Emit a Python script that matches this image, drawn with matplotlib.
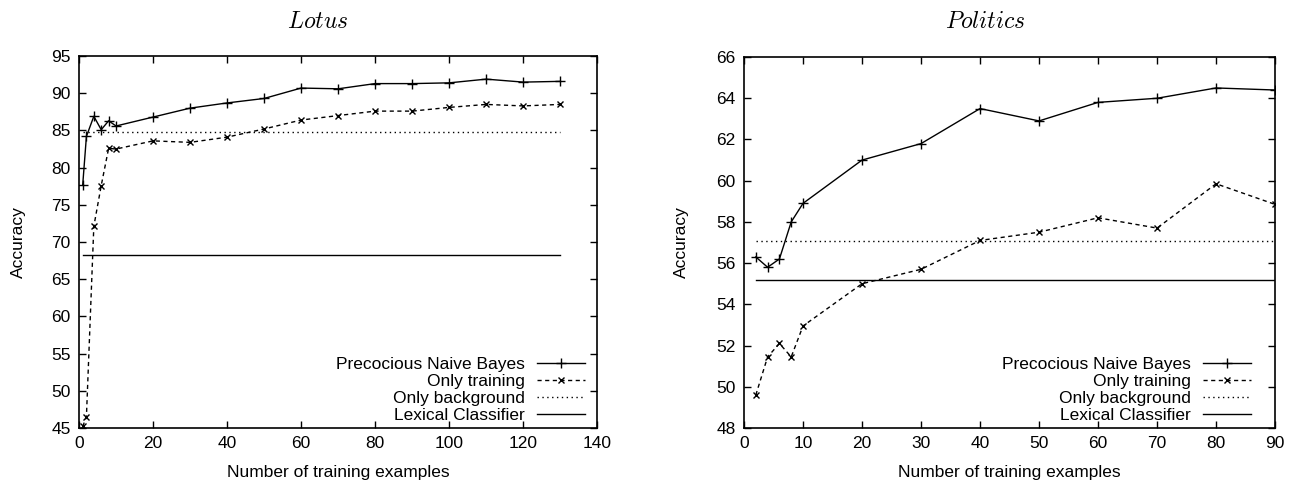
import matplotlib
matplotlib.use("Agg")
import matplotlib.pyplot as plt

plt.rcParams['font.family'] = ['Liberation Sans', 'DejaVu Sans']
plt.rcParams['mathtext.fontset'] = 'cm'

# Lotus
lotus_x = [1, 2, 4, 6, 8, 10, 20, 30, 40, 50, 60, 70, 80, 90, 100, 110, 120, 130]
lotus_pnb = [77.7, 84.2, 86.9, 85.1, 86.3, 85.6, 86.8, 88.0, 88.7, 89.3, 90.7, 90.6, 91.3, 91.3, 91.4, 91.9, 91.5, 91.6]
lotus_train = [45.2, 46.5, 72.1, 77.6, 82.6, 82.5, 83.6, 83.4, 84.1, 85.2, 86.4, 87.0, 87.6, 87.6, 88.1, 88.5, 88.3, 88.5]
lotus_bg = 84.8
lotus_lex = 68.2
lotus_range = [1, 130]

# Politics
pol_x = [2, 4, 6, 8, 10, 20, 30, 40, 50, 60, 70, 80, 90]
pol_pnb = [56.3, 55.8, 56.2, 58.0, 58.9, 61.0, 61.8, 63.5, 62.9, 63.8, 64.0, 64.5, 64.4]
pol_train = [49.6, 51.45, 52.1, 51.45, 52.95, 55.0, 55.7, 57.1, 57.5, 58.2, 57.7, 59.85, 58.85]
pol_bg = 57.05
pol_lex = 55.2
pol_range = [2, 90]

labels = ["Precocious Naive Bayes", "Only training", "Only background", "Lexical Classifier"]

FS = 12.5

fig = plt.figure(figsize=(12.89, 4.83), dpi=100)
ax1 = fig.add_axes([0.0613, 0.1139, 0.402, 0.770])
ax2 = fig.add_axes([0.5772, 0.1139, 0.412, 0.768])

def draw(ax, x, pnb, tr, bg, lex, rng, xlim, xticks, ylim, yticks, ylabelpad, legx):
    lw = 1.0
    ax.plot(x, pnb, color='black', lw=lw, marker='+', ms=7, mew=1.0, label=labels[0])
    ax.plot(x, tr, color='black', lw=lw, ls=(0, (3, 2.5)), marker='x', ms=5, mew=1.0, label=labels[1])
    ax.plot(rng, [bg, bg], color='black', lw=lw, ls=(0, (1, 2.5)), label=labels[2])
    ax.plot(rng, [lex, lex], color='black', lw=lw, ls='-', label=labels[3])
    ax.set_xlim(*xlim)
    ax.set_ylim(*ylim)
    ax.set_xticks(xticks)
    ax.set_yticks(yticks)
    ax.tick_params(direction='in', top=True, right=True, length=5, width=1, labelsize=FS, pad=6)
    for s in ax.spines.values():
        s.set_linewidth(1.2)
    ax.set_xlabel("Number of training examples", fontsize=FS, labelpad=10)
    ax.set_ylabel("Accuracy", fontsize=FS, labelpad=ylabelpad)
    ax.legend(loc='lower right', bbox_to_anchor=(legx, -0.005), frameon=False,
              markerfirst=False, fontsize=FS,
              handlelength=2.75, handletextpad=0.7, labelspacing=0.1,
              borderaxespad=0.0)

draw(ax1, lotus_x, lotus_pnb, lotus_train, lotus_bg, lotus_lex, lotus_range,
     (0, 140), range(0, 141, 20), (45, 95), range(45, 96, 5), 18, 0.99)
draw(ax2, pol_x, pol_pnb, pol_train, pol_bg, pol_lex, pol_range,
     (0, 90), range(0, 91, 10), (48, 66), range(48, 67, 2), 20, 0.968)

fig.text(0.2467, 0.955, r"$\mathit{Lotus}$", fontsize=17, ha='center', va='center')
fig.text(0.764, 0.955, r"$\mathit{Politics}$", fontsize=17, ha='center', va='center')

fig.savefig("out.png", dpi=100)
